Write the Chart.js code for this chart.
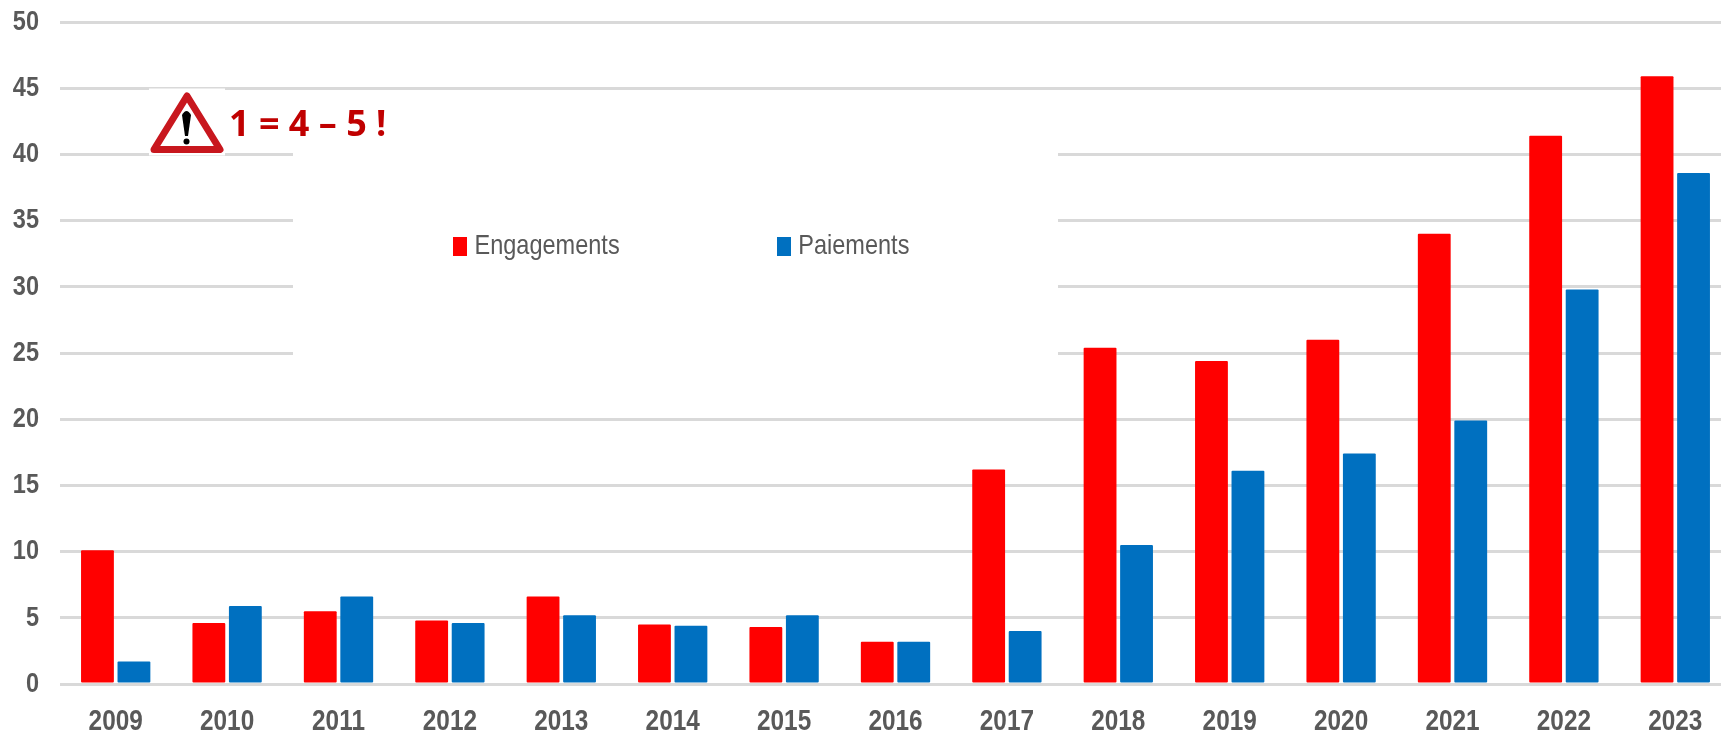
<!DOCTYPE html>
<html><head><meta charset="utf-8">
<style>html,body{margin:0;padding:0;background:#fff;overflow:hidden;width:1721px;height:733px}canvas{display:block}</style>
<script src="https://cdn.jsdelivr.net/npm/chart.js@4/dist/chart.umd.js"></script>
</head><body>
<canvas id="c" width="1740" height="733" style="width:1740px;height:733px"></canvas>
<script>
const categories = ["2009","2010","2011","2012","2013","2014","2015","2016","2017","2018","2019","2020","2021","2022","2023"];
const engagements = [10.1,4.6,5.5,4.8,6.6,4.5,4.3,3.2,16.2,25.4,24.4,26,34,41.4,45.9];
const paiements = [1.7,5.9,6.6,4.6,5.2,4.4,5.2,3.2,4,10.5,16.1,17.4,19.9,29.8,38.6];
const seriesNames = ["Engagements","Paiements"];
const seriesColors = ["#FF0000","#0070C0"];
const annotationText = "1 = 4 \u2013 5 !";
const NARROW = '"Liberation Sans",sans-serif';
const SQUEEZE = 0.84;

function swatch(color){
  const s=document.createElement('canvas');s.width=14;s.height=19;
  const g=s.getContext('2d');g.fillStyle=color;g.fillRect(0,0,14,19);return s;
}
const swatches = seriesColors.map(c=>swatch(c));

const canvas=document.getElementById('c');
const ctx0=canvas.getContext('2d');
const rawFillText=ctx0.fillText.bind(ctx0);
ctx0.fillText=function(t,x,y,m){
  if(ctx0.font.includes('Liberation')){
    ctx0.save();ctx0.translate(x,y);ctx0.scale(SQUEEZE,1);
    rawFillText(t,0,0);
    ctx0.restore();
  } else rawFillText(t,x,y);
};

const overlay = {
  id:'overlay',
  beforeLayout(chart){
    const l=chart.legend;
    if(!l._patched){
      const f=l.fit;
      l.fit=function(){f.call(this);this.height=0;};
      l._layers=function(){return [{z:1,draw(a){l.draw(a);}}];};
      l._patched=true;
    }
  },
  afterLayout(chart){
    const l=chart.legend;
    l.left=323.5;l.right=1500;l.top=96;l.bottom=300;
  },
  beforeDatasetsDraw(chart){
    const c=chart.ctx;
    c.save();c.fillStyle='#fff';
    c.fillRect(293,100,765,265);
    c.fillRect(149,88.5,76,67);
    c.restore();
  },
  afterDatasetsDraw(chart){
    const c=chart.ctx;
    c.save();
    c.lineJoin='round';c.lineWidth=7;c.strokeStyle='#C8171E';c.fillStyle='#fff';
    c.beginPath();c.moveTo(187,96);c.lineTo(220,149.5);c.lineTo(154,149.5);c.closePath();c.fill();c.stroke();
    c.fillStyle='#000';
    c.beginPath();c.moveTo(182,115);c.quadraticCurveTo(186.5,107,191,115);c.lineTo(188,136);c.lineTo(185,136);c.closePath();c.fill();
    c.beginPath();c.arc(186.5,141.5,3,0,Math.PI*2);c.fill();
    c.fillStyle='#C00000';c.font='bold 36px "Open Sans",sans-serif';
    c.textAlign='left';c.textBaseline='alphabetic';
    c.fillText(annotationText,229,136);
    c.restore();
  }
};

new Chart(canvas,{
  type:'bar',
  data:{labels:categories,datasets:[
    {label:seriesNames[0],data:engagements,backgroundColor:seriesColors[0],borderRadius:1,borderSkipped:false},
    {label:seriesNames[1],data:paiements,backgroundColor:seriesColors[1],borderRadius:1,borderSkipped:false}
  ]},
  options:{
    responsive:false,animation:false,
    categoryPercentage:0.655,barPercentage:0.9,
    layout:{autoPadding:false,padding:{top:22,right:9,left:0,bottom:0}},
    scales:{
      x:{
        grid:{display:false},border:{display:false},
        ticks:{color:'#595959',font:{family:NARROW,size:29,weight:'bold'},padding:13,maxRotation:0,autoSkip:false},
        afterFit(s){s.height=49;s.paddingLeft=0;s.paddingRight=0;}
      },
      y:{
        min:0,max:50,
        grid:{color:'#D9D9D9',lineWidth:3,drawTicks:false},border:{display:false},
        ticks:{stepSize:5,color:'#595959',font:{family:NARROW,size:28,weight:'bold'},padding:21},
        afterFit(s){s.width=60;s.paddingTop=0;s.paddingBottom=0;}
      }
    },
    plugins:{
      tooltip:{enabled:false},
      legend:{
        position:'top',align:'start',
        labels:{
          usePointStyle:true,boxWidth:1,boxHeight:19,padding:136,color:'#595959',
          font:{family:NARROW,size:28},
          generateLabels(chart){
            return chart.data.datasets.map((d,i)=>({text:d.label,fillStyle:d.backgroundColor,strokeStyle:d.backgroundColor,lineWidth:0,pointStyle:swatches[i],hidden:false,datasetIndex:i,fontColor:'#595959'}));
          }
        }
      }
    }
  },
  plugins:[overlay]
});
</script>
</body></html>
